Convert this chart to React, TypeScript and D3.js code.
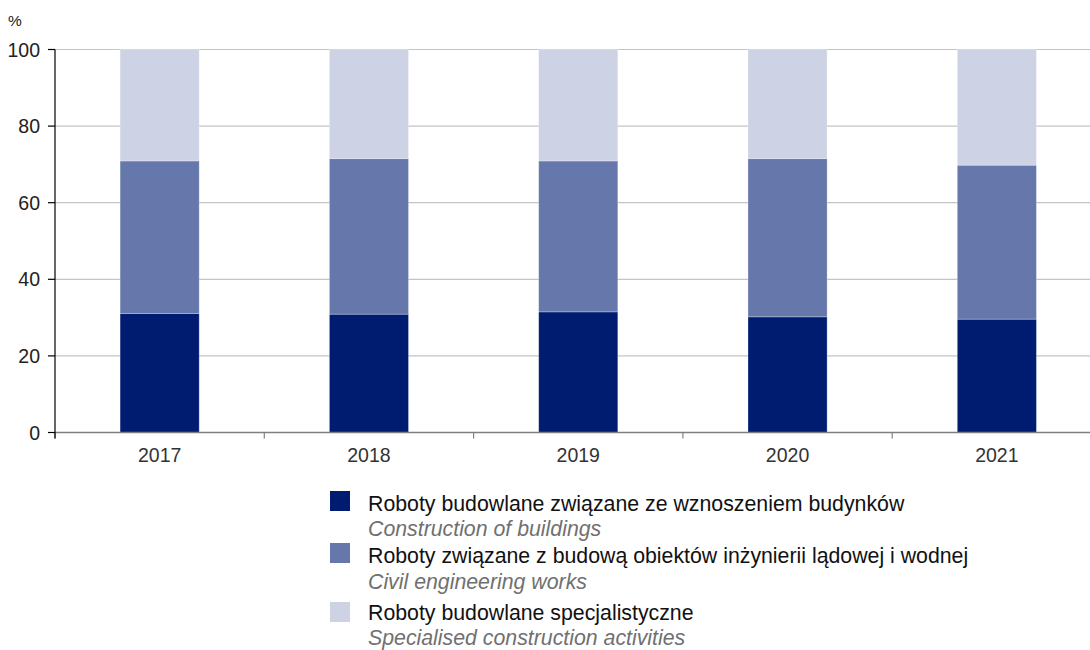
import React from "react";
import * as d3 from "d3";

const years = ["2017", "2018", "2019", "2020", "2021"];
const buildings = [31.1, 30.9, 31.5, 30.2, 29.6];
const civil = [39.8, 40.6, 39.4, 41.3, 40.2];
const specialised = [29.1, 28.5, 29.1, 28.5, 30.2];
const yTicks = [0, 20, 40, 60, 80, 100];

const seriesKeys = ["buildings", "civil", "specialised"];
const seriesColors = ["#001c71", "#6677ab", "#cdd2e4"];
const legendPl = [
  "Roboty budowlane związane ze wznoszeniem budynków",
  "Roboty związane z budową obiektów inżynierii lądowej i wodnej",
  "Roboty budowlane specjalistyczne",
];
const legendEn = [
  "Construction of buildings",
  "Civil engineering works",
  "Specialised construction activities",
];

export default function App() {
  const W = 1090;
  const H = 650;
  const x0 = 55;
  const x1 = 1101.5;
  const yTop = 49.5;
  const yBottom = 432.5;

  const table = years.map((y, i) => ({
    year: y,
    buildings: buildings[i],
    civil: civil[i],
    specialised: specialised[i],
  }));
  const stacked = d3.stack<any>().keys(seriesKeys)(table);

  const x = d3.scaleBand<string>().domain(years).range([x0, x1]).paddingInner(0.622).paddingOuter(0.311);
  const band = (x1 - x0) / years.length;
  const y = d3.scaleLinear().domain([0, 100]).range([yBottom, yTop]);
  const font = "Arial, 'Liberation Sans', sans-serif";

  const legendY = [491, 543, 602];
  const legendTextY = [511, 563, 620];
  const legendSubY = [536, 589, 644.5];

  return (
    <svg width={W} height={H} style={{ position: "absolute", left: 0, top: 0 }} fontFamily={font}>
      <rect x={0} y={0} width={W} height={H} fill="#fff" />
      {yTicks.filter((t) => t > 0).map((t) => (
        <line key={t} x1={x0} x2={W} y1={y(t)} y2={y(t)} stroke="#c4c4c4" strokeWidth={1.2} />
      ))}
      {stacked.map((s, si) =>
        s.map((d, i) => (
          <rect
            key={si + "-" + i}
            x={x(years[i])}
            width={x.bandwidth()}
            y={y(d[1])}
            height={y(d[0]) - y(d[1])}
            fill={seriesColors[si]}
            stroke="rgba(255,255,255,0.35)"
            strokeWidth={0.8}
          />
        ))
      )}
      <line x1={x0} x2={W} y1={yBottom} y2={yBottom} stroke="#808080" strokeWidth={1.3} />
      {d3.range(years.length + 1).map((i) => (
        <line key={i} x1={x0 + i * band} x2={x0 + i * band} y1={yBottom} y2={yBottom + 6} stroke="#808080" strokeWidth={1.2} />
      ))}
      <line x1={x0} x2={x0} y1={yTop} y2={yBottom + 6} stroke="#000" strokeWidth={1.2} />
      {yTicks.map((t) => (
        <g key={t}>
          <line x1={x0 - 7} x2={x0} y1={y(t)} y2={y(t)} stroke="#000" strokeWidth={1.2} />
          <text x={40} y={y(t) + 7} textAnchor="end" fontSize={19.5} fill="#222">
            {t}
          </text>
        </g>
      ))}
      <text x={8} y={26} fontSize={15.5} fill="#222">%</text>
      {years.map((yr) => (
        <text key={yr} x={(x(yr) as number) + x.bandwidth() / 2} y={461.5} textAnchor="middle" fontSize={19.5} fill="#333">
          {yr}
        </text>
      ))}
      {seriesKeys.map((k, i) => (
        <g key={k}>
          <rect x={330} y={legendY[i]} width={20} height={20} fill={seriesColors[i]} />
          <text x={368} y={legendTextY[i]} fontSize={21.3} fill="#111">
            {legendPl[i]}
          </text>
          <text x={368} y={legendSubY[i]} fontSize={21.3} fontStyle="italic" fill="#707070">
            {legendEn[i]}
          </text>
        </g>
      ))}
    </svg>
  );
}
